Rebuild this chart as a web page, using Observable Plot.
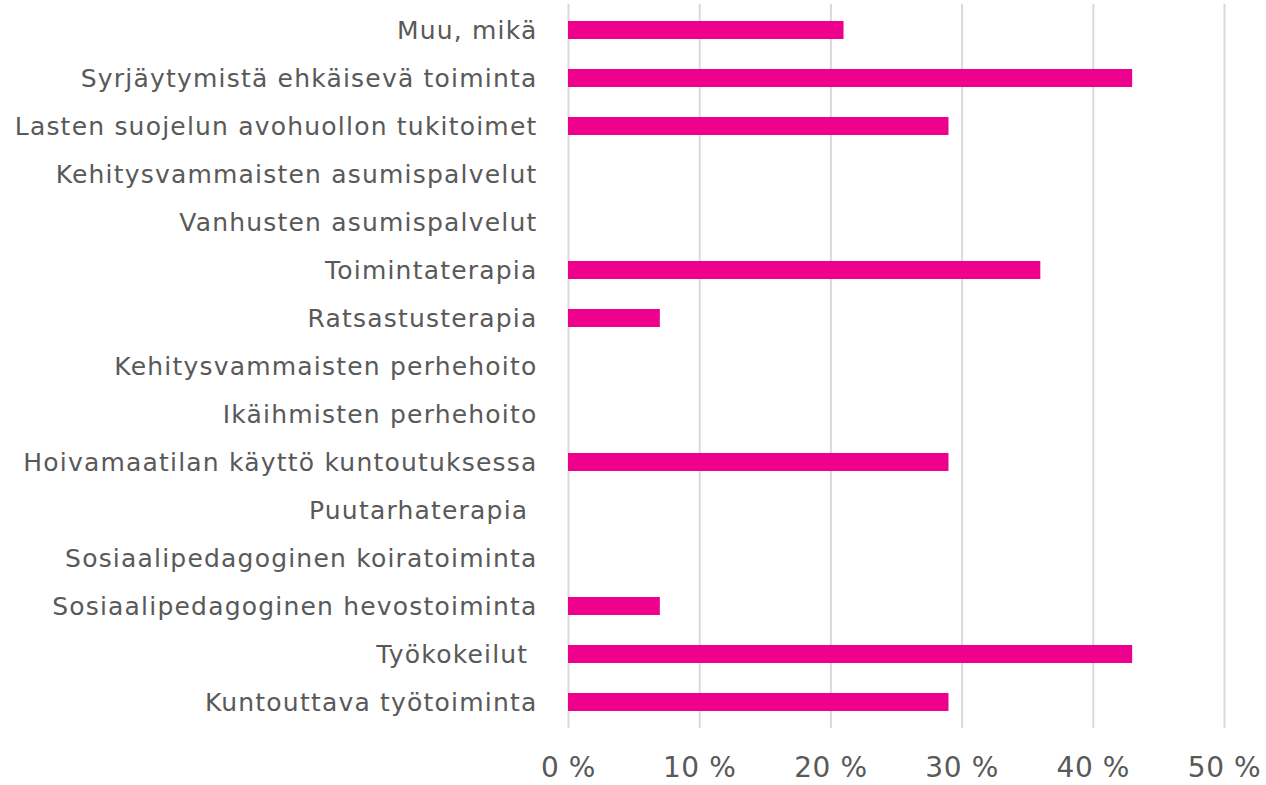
<!DOCTYPE html>
<html>
<head>
<meta charset="utf-8">
<script src="https://cdn.jsdelivr.net/npm/d3@7"></script>
<script src="https://cdn.jsdelivr.net/npm/@observablehq/plot@0.6"></script>
<style>
  html, body { margin: 0; padding: 0; background: #ffffff; }
  #chart g[aria-label="y-axis tick label"] text { letter-spacing: 1.2px; }
  #chart g[aria-label="x-axis tick label"] text { letter-spacing: 0.6px; }
</style>
</head>
<body>
<div id="chart"></div>
<script>
const categories = [
  "Muu, mikä",
  "Syrjäytymistä ehkäisevä toiminta",
  "Lasten suojelun avohuollon tukitoimet",
  "Kehitysvammaisten asumispalvelut",
  "Vanhusten asumispalvelut",
  "Toimintaterapia",
  "Ratsastusterapia",
  "Kehitysvammaisten perhehoito",
  "Ikäihmisten perhehoito",
  "Hoivamaatilan käyttö kuntoutuksessa",
  "Puutarhaterapia\u00a0",
  "Sosiaalipedagoginen koiratoiminta",
  "Sosiaalipedagoginen hevostoiminta",
  "Työkokeilut\u00a0",
  "Kuntouttava työtoiminta"
];
const values = [21, 43, 29, 0, 0, 36, 7, 0, 0, 29, 0, 0, 7, 43, 29];
const xTicks = [0, 10, 20, 30, 40, 50];

const data = categories.map((c, i) => ({category: c, value: values[i]}));

const chart = Plot.plot({
  width: 1266,
  height: 785,
  marginLeft: 568,
  marginRight: 42,
  marginTop: 4,
  marginBottom: 57,
  style: {
    fontFamily: "'DejaVu Sans', sans-serif",
    color: "#595959",
    background: "#ffffff",
    overflow: "visible"
  },
  x: {
    domain: [0, 50],
    label: null
  },
  y: {
    domain: categories,
    paddingInner: 0.63,
    paddingOuter: 0.315,
    label: null
  },
  marks: [
    Plot.ruleX(xTicks, {stroke: "#d9d9d9", strokeWidth: 2}),
    Plot.barX(data, {x: "value", y: "category", fill: "#EC008C"}),
    Plot.axisX({ticks: xTicks, tickFormat: d => d + " %", tickSize: 0, tickPadding: 29, fontSize: 28, label: null}),
    Plot.axisY({tickSize: 0, tickPadding: 31, fontSize: 25, label: null})
  ]
});
document.getElementById("chart").appendChild(chart);
</script>
</body>
</html>
